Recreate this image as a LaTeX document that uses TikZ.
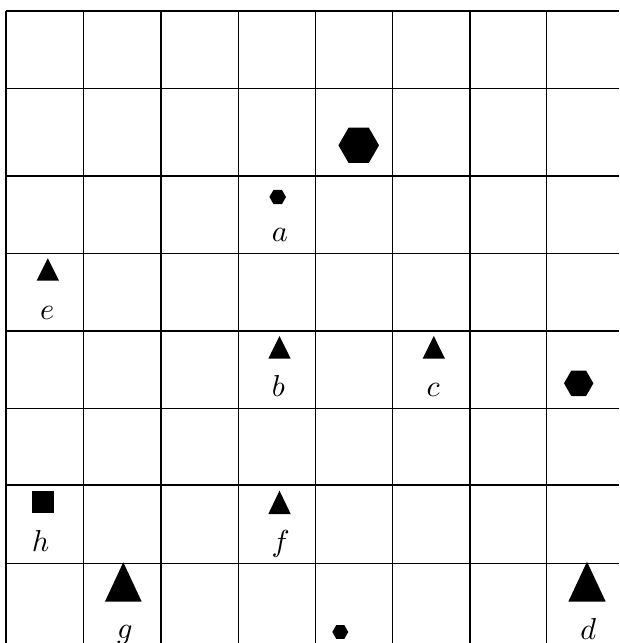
\documentclass[tikz,border=0pt]{standalone}
\begin{document}
\begin{tikzpicture}[x=0.33pt,y=-0.33pt,
  gridline/.style={line width=0.45pt, draw=black},
  solidfill/.style={fill=black},
  lbl/.style={anchor=base, inner sep=0pt, outer sep=0pt}]
\useasboundingbox (0,0) rectangle (619,643);
% grid
\foreach \x in {6,83.3,161,238.3,315.3,392.7,470,546.7}
  \draw[gridline] (\x,11) -- (\x,643);
\foreach \y in {11,88.7,176,253.3,331,408.3,485,563.3}
  \draw[gridline] (6,\y) -- (619,\y);
% hexagons
\foreach \cx/\cy/\r in {358.7/145.3/20.3, 277.7/197/8.3, 578.7/383.3/14.7, 340.3/632/8}
  \fill[solidfill] (\cx,\cy) +(0:\r) -- +(60:\r) -- +(120:\r) -- +(180:\r) -- +(240:\r) -- +(300:\r) -- cycle;
% triangles
\foreach \cx/\top/\bot/\hw in {47.8/258.3/280.7/11.2, 279.5/336/358.7/11.2, 433.8/336/358.7/11.2, 279.5/490.7/514/11.2, 123.3/562.3/601.7/18.4, 587/561.7/601.7/18.7}
  \fill[solidfill] (\cx-\hw,\bot) -- (\cx+\hw,\bot) -- (\cx,\top) -- cycle;
% square
\fill[solidfill] (32.3,490.7) rectangle (54,512.7);
% labels
\node[lbl] (la) at (280,241.7) {$a$};
\node[lbl] (le) at (47.3,319.3) {$e$};
\node[lbl] (lb) at (278.3,396) {$b$};
\node[lbl] (lc) at (433.3,396) {$c$};
\node[lbl] (lh) at (40.7,551.7) {$h$};
\node[lbl] (lf) at (280.7,551.7) {$f$};
\node[lbl] (lg) at (125,638) {$g$};
\node[lbl] (ld) at (588.3,639.3) {$d$};
\end{tikzpicture}
\end{document}
